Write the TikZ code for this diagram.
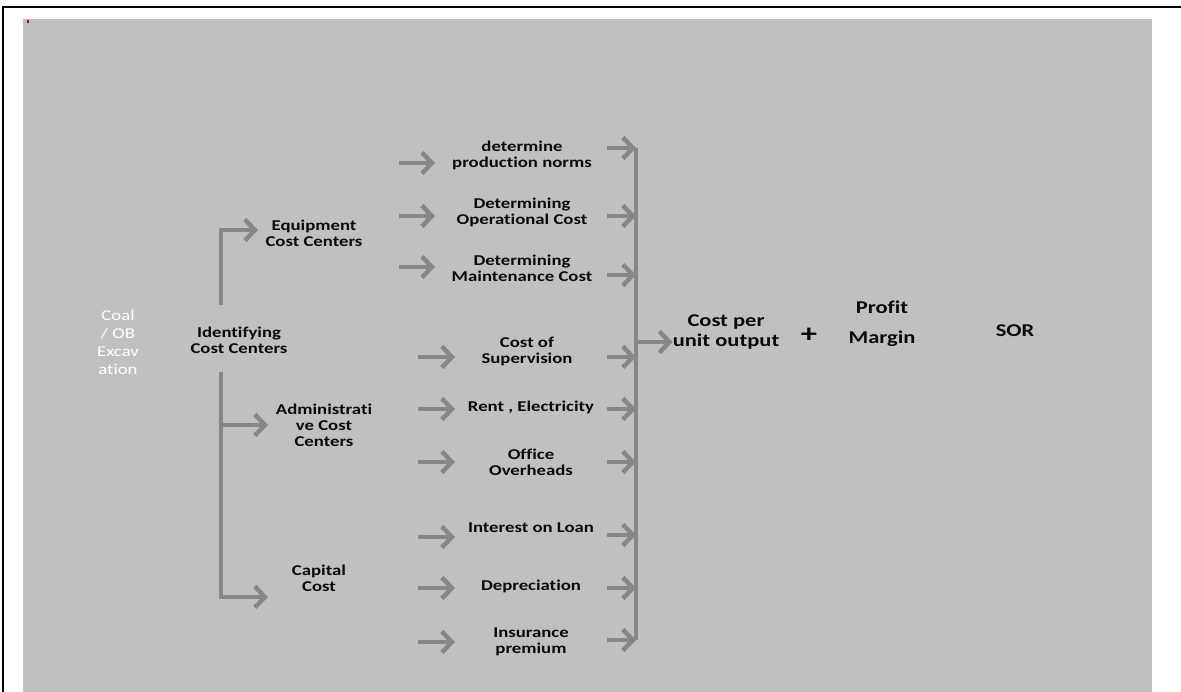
\documentclass[tikz,border=0pt]{standalone}
\usepackage{fontspec}
\setmainfont[FakeStretch=1.25,Ligatures=NoCommon]{Carlito}
\usetikzlibrary{arrows.meta}
\definecolor{panel}{RGB}{192,192,192}
\definecolor{flowgray}{RGB}{135,135,135}
\definecolor{inkblack}{RGB}{10,10,10}

\begin{document}
\begin{tikzpicture}[x=1pt,y=-1pt,>={Straight Barb[length=10pt,width=21pt]},
    arr/.style={->,flowgray,line width=4.5pt},
    busline/.style={flowgray,line width=4.5pt},
    item/.style={align=center,inner sep=0pt,text=inkblack,font=\bfseries\fontsize{15}{16}\selectfont},
    big/.style={align=center,inner sep=0pt,text=inkblack,font=\bfseries\fontsize{18}{20}\selectfont}]

    \useasboundingbox (0,0) rectangle (1181,692);

    % frame and panel
    \fill[panel] (23,19) rectangle (1152,692);
    \fill[red!75!black] (27,20) rectangle (29,23);
    \draw[line width=2.5pt] (1181,7) -- (3,7) -- (3,692);

    % left part
    \draw (118,342) node[white,align=center,inner sep=0pt,font=\fontsize{15}{18}\selectfont] (coal) {Coal\\/ OB\\Excav\\ation};
    \draw (239,340) node[item] (ident) {Identifying\\Cost Centers};
    \draw (314,233) node[item] (equip) {Equipment\\Cost Centers};
    \draw (324,425) node[item] (admin) {Administrati\\ve Cost\\Centers};
    \draw (319,578) node[item] (capital) {Capital\\Cost};

    \coordinate (upS) at (221,305);
    \coordinate (upE) at (258,230);
    \coordinate (loS) at (221,372);
    \coordinate (loM) at (221,425);
    \coordinate (loA) at (268,425);
    \coordinate (loE) at (268,597);
    \draw[arr] (upS) |- (upE);
    \draw[arr] (loS) |- (loE);
    \draw[arr] (loM) -- (loA);

    % cost items
    \draw (522,155) node[item] (norms) {determine\\production norms};
    \draw (522,212) node[item] (oper) {Determining\\Operational Cost};
    \draw (522,268) node[item] (maint) {Determining\\Maintenance Cost};
    \draw (527,351) node[item] (superv) {Cost of\\Supervision};
    \draw (531,407) node[item] (rent) {Rent , Electricity};
    \draw (531,462) node[item] (office) {Office\\Overheads};
    \draw (531,528) node[item] (loan) {Interest on Loan};
    \draw (531,586) node[item] (deprec) {Depreciation};
    \draw (531,642) node[item] (insur) {Insurance\\premium};

    % arrows into the items
    \coordinate (normsIn) at (399,163);
    \coordinate (operIn) at (399,216);
    \coordinate (maintIn) at (399,267);
    \coordinate (supervIn) at (418,357);
    \coordinate (rentIn) at (418,409);
    \coordinate (officeIn) at (418,462);
    \coordinate (loanIn) at (418,537);
    \coordinate (deprecIn) at (418,588);
    \coordinate (insurIn) at (418,642);
    \draw[arr] (normsIn) -- ++(36,0);
    \draw[arr] (operIn) -- ++(36,0);
    \draw[arr] (maintIn) -- ++(36,0);
    \draw[arr] (supervIn) -- ++(37,0);
    \draw[arr] (rentIn) -- ++(37,0);
    \draw[arr] (officeIn) -- ++(37,0);
    \draw[arr] (loanIn) -- ++(37,0);
    \draw[arr] (deprecIn) -- ++(37,0);
    \draw[arr] (insurIn) -- ++(37,0);

    % arrows out to the collecting line
    \coordinate (busT) at (636,148);
    \coordinate (busB) at (636,640);
    \draw[busline] (busT) -- (busB);
    \draw[arr] (607,148) -- (busT);
    \draw[arr] (607,216) -- (636,216);
    \draw[arr] (607,275) -- (636,275);
    \draw[arr] (607,357) -- (636,357);
    \draw[arr] (607,409) -- (636,409);
    \draw[arr] (607,462) -- (636,462);
    \draw[arr] (607,535) -- (636,535);
    \draw[arr] (607,588) -- (636,588);
    \draw[arr] (607,640) -- (busB);

    % result
    \draw (726,332) node[big] (unit) {Cost per\\unit output};
    \coordinate (busM) at (636,342);
    \draw[arr] (busM) -- (unit.west |- busM);
    \draw (809,335) node[big,font=\bfseries\fontsize{26}{26}\selectfont] (plus) {+};
    \draw (882,324) node[big,font=\bfseries\fontsize{18}{30}\selectfont] (profit) {Profit\\Margin};
    \draw (1015,331) node[big] (sor) {SOR};

\end{tikzpicture}
\end{document}
